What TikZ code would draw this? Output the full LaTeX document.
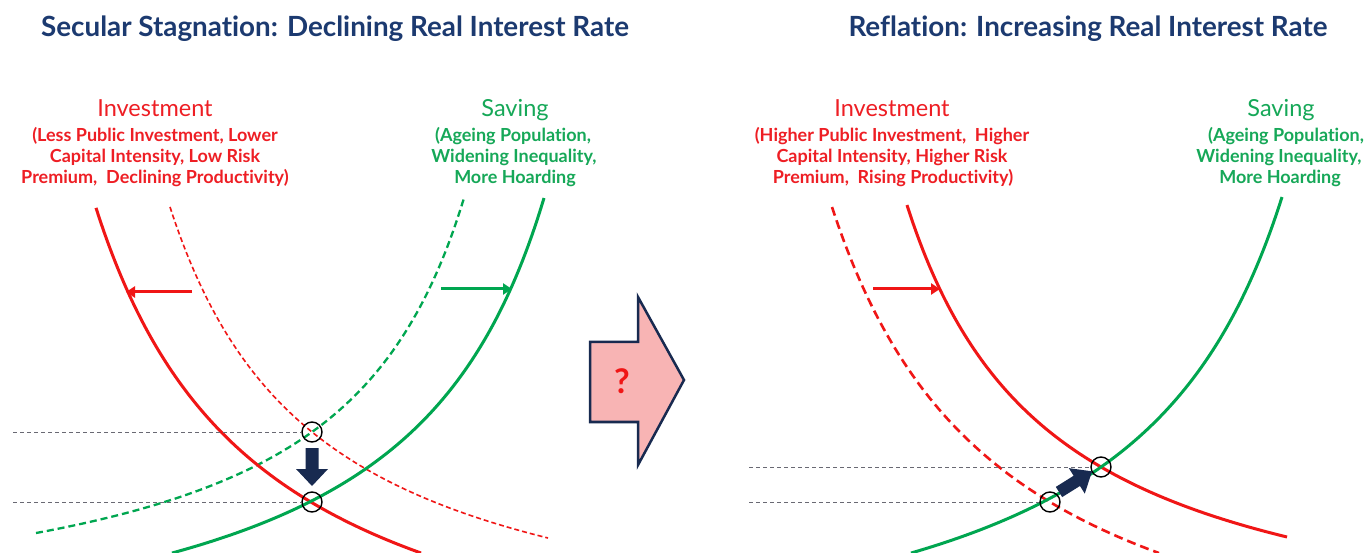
\documentclass[tikz,border=0pt]{standalone}
\usepackage{fontspec}
\setmainfont{Lato}[Ligatures={NoCommon}]
\usetikzlibrary{arrows.meta}
\definecolor{ttl}{RGB}{28,58,112}
\definecolor{rd}{RGB}{240,22,22}
\definecolor{rdt}{RGB}{238,30,36}
\definecolor{gn}{RGB}{0,166,80}
\definecolor{gnt}{RGB}{22,168,88}
\definecolor{navy}{RGB}{24,42,80}
\definecolor{pinkf}{RGB}{248,180,180}
\definecolor{guide}{RGB}{105,105,115}
\tikzset{
  ttlstyle/.style={text=ttl,font=\fontsize{27.8}{30}\selectfont\bfseries,inner sep=0,anchor=base},
  headr/.style={text=rdt,font=\fontsize{23.5}{26}\selectfont,inner sep=0,anchor=base},
  headg/.style={text=gnt,font=\fontsize{23.5}{26}\selectfont,inner sep=0,anchor=base},
  subr/.style={text=rdt,font=\fontsize{18}{20}\selectfont\bfseries,inner sep=0,anchor=base},
  subg/.style={text=gnt,font=\fontsize{18}{20}\selectfont\bfseries,inner sep=0,anchor=base},
  solidred/.style={draw=rd,line width=3pt},
  solidgreen/.style={draw=gn,line width=3pt},
  thinreddash/.style={draw=rd,line width=1.6pt,dash pattern=on 5pt off 3pt},
  greendash/.style={draw=gn,line width=2.3pt,dash pattern=on 7pt off 4pt},
  thickreddash/.style={draw=rd,line width=2.6pt,dash pattern=on 9pt off 5pt},
  guideline/.style={draw=guide,line width=1pt,dash pattern=on 4pt off 3pt},
  ring/.style={circle,draw=black,line width=1.4pt,minimum size=20pt,inner sep=0},
  redarr/.style={draw=rd,line width=3pt,-{Triangle[length=9pt,width=11pt]}},
  greenarr/.style={draw=gn,line width=3pt,-{Triangle[length=9pt,width=11pt]}},
}
\begin{document}
\begin{tikzpicture}[x=1pt,y=-1pt]
\useasboundingbox[fill=white] (0,0) rectangle (1369,553);

% ---------- titles ----------
\node[ttlstyle] (t1) at (335,37) {Secular Stagnation: Declining Real Interest Rate};
\node[ttlstyle] (t2) at (1088,37) {Reflation: Increasing Real Interest Rate};

% ---------- left labels ----------
\node[headr] (li) at (155,117) {Investment};
\node[subr] (li1) at (155,142) {(Less Public Investment, Lower};
\node[subr] (li2) at (155,163) {Capital Intensity, Low Risk};
\node[subr] (li3) at (155,184) {Premium, \ Declining Productivity)};
\node[headg] (ls) at (515,117) {Saving};
\node[subg] (ls1) at (513,142) {(Ageing Population,};
\node[subg] (ls2) at (514,163) {Widening Inequality,};
\node[subg] (ls3) at (515,184) {More Hoarding};

% ---------- right labels ----------
\node[headr] (ri) at (892,117) {Investment};
\node[subr] (ri1) at (892,142) {(Higher Public Investment, \ Higher};
\node[subr] (ri2) at (892,163) {Capital Intensity, Higher Risk};
\node[subr] (ri3) at (893,184) {Premium, \ Rising Productivity)};
\node[headg] (rs) at (1281,117) {Saving};
\node[subg] (rs1) at (1286,142) {(Ageing Population,};
\node[subg] (rs2) at (1279,163) {Widening Inequality,};
\node[subg] (rs3) at (1280,184) {More Hoarding};

% ---------- left chart ----------
\draw[thinreddash] plot[domain=170:548,samples=120] (\x,{668.96-690.87*(100/(\x-20.46))});
\draw[greendash] plot[domain=36:464,samples=120] (\x,{637.5+586.72*(100/(\x-597.5))});
\draw[solidred] plot[domain=96:421,samples=120] (\x,{729.3-865.63*(100/(\x+70))});
\draw[solidgreen] plot[domain=172:544,samples=120] (\x,{695.3+741.45*(100/(\x-693.1))});

\node[ring] (c1) at (312,432) {};
\node[ring] (c2) at (312,502) {};
\coordinate (g1) at (13,432);
\coordinate (g2) at (13,502);
\draw[guideline] (g1) -- (c1.west);
\draw[guideline] (g2) -- (c2.west);

\coordinate (la1) at (192,292);
\coordinate (la2) at (126,292);
\draw[redarr] (la1) -- (la2);
\coordinate (lg1) at (441,289);
\coordinate (lg2) at (512,289);
\draw[greenarr] (lg1) -- (lg2);

\fill[navy] (305.5,448) -- (318.5,448) -- (318.5,469) -- (328,469) -- (312,486) -- (296,469) -- (305.5,469) -- cycle;

% ---------- middle block arrow ----------
\draw[fill=pinkf,draw=navy,line width=2.5pt,line join=miter]
  (590,342) -- (638,342) -- (638,297) -- (684,380) -- (638,465) -- (638,422) -- (590,422) -- cycle;
\node[text=rd,font=\fontsize{34}{36}\selectfont\bfseries,inner sep=0] (q) at (622,381) {?};

% ---------- right chart ----------
\draw[thickreddash] plot[domain=832:1159,samples=120] (\x,{735.9-913.89*(100/(\x-659.2))});
\draw[solidred] plot[domain=907:1287,samples=120] (\x,{665.25-675.62*(100/(\x-760.2))});
\draw[solidgreen] plot[domain=911:1282,samples=120] (\x,{708.1+825.89*(100/(\x-1443.6))});

\node[ring] (c3) at (1101,467) {};
\node[ring] (c4) at (1050,502) {};
\coordinate (g3) at (749,467);
\coordinate (g4) at (749,502);
\draw[guideline] (g3) -- (c3.west);
\draw[guideline] (g4) -- (c4.west);

\coordinate (ra1) at (873,289);
\coordinate (ra2) at (940,289);
\draw[redarr] (ra1) -- (ra2);

\begin{scope}[shift={(1059,492)},rotate=32]
\fill[navy] (0,-6) -- (21,-6) -- (21,-15) -- (39,0) -- (21,15) -- (21,6) -- (0,6) -- cycle;
\end{scope}
\end{tikzpicture}
\end{document}
